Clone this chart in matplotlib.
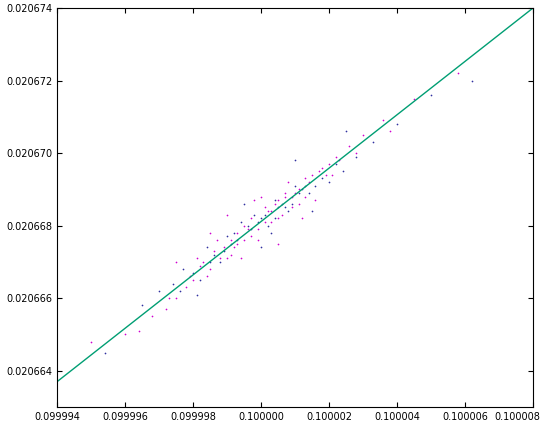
import matplotlib
matplotlib.use("Agg")
import matplotlib.pyplot as plt
import matplotlib.transforms as mtrans
import numpy as np

# offsets: x-0.1 and y-0.020668, in units of 1e-6
x_mag = [-5.0,-4.0,-3.2,-2.8,-2.5,-2.2,-1.9,-1.7,-1.5,-1.3,-1.1,-0.9,-0.7,-0.5,-0.3,-0.1,0.1,0.3,0.5,0.7,0.9,1.1,1.3,1.5,1.8,2.2,2.6,3.0,3.6,4.5,5.8,-1.5,0.5,-2.5,0.0,-1.0,1.6,-0.6,0.8,2.0,-3.6,3.8,-0.2,1.2,
         -1.2,-0.8,-0.4,0.2,0.6,1.0,1.4,-1.6,-2.0,-0.3,0.4,1.7,2.3,-2.7,-1.4,-0.9,0.1,0.9,1.9,2.8,-0.7,0.3,-1.8,1.1,-0.1,0.7,-2.1,2.1,-1.0,0.5,1.3,-0.5]
y_mag = [-3.2,-3.0,-2.5,-2.3,-2.0,-1.7,-0.9,-1.0,-1.2,-0.4,-0.6,-0.8,-0.5,-0.4,-0.3,-0.1,0.5,0.4,0.2,0.9,0.8,0.6,1.3,1.4,1.6,1.9,2.2,2.5,2.9,3.5,4.2,-0.2,-0.5,-1.0,0.8,0.3,0.7,-0.9,1.2,1.7,-2.9,2.6,0.7,0.2,
         -0.9,-0.6,-0.1,0.4,0.3,0.9,1.2,-1.4,-1.5,0.2,0.6,1.5,1.8,-2.0,-0.7,-0.4,0.1,0.5,1.4,2.0,-0.2,0.1,-1.1,1.0,-0.4,0.8,-1.4,1.4,-0.9,0.7,0.8,0.0]
x_blu = [-4.6,-3.5,-3.0,-2.6,-2.3,-2.0,-1.8,-1.6,-1.4,-1.2,-1.0,-0.8,-0.6,-0.4,-0.2,0.0,0.2,0.4,0.6,0.8,1.0,1.2,1.4,1.6,2.0,2.4,2.8,3.3,4.0,5.0,6.2,-0.5,1.5,2.5,0.0,1.0,-1.9,0.3,
         -1.1,-0.7,-0.3,0.1,0.5,0.9,1.3,1.8,-1.5,-2.4,0.7,-0.9,2.2,-0.1,0.4,1.1]
y_blu = [-3.5,-2.2,-1.8,-1.6,-1.2,-1.3,-1.5,-0.6,-0.8,-1.0,-0.3,-0.2,0.1,0.0,0.3,0.2,0.0,0.7,0.6,0.4,1.1,1.0,0.9,1.1,1.2,1.5,1.9,2.3,2.8,3.6,4.0,0.6,0.4,2.6,-0.6,1.8,-1.9,-0.2,
         -0.7,-0.4,-0.1,0.3,0.5,0.6,1.1,1.3,-1.0,-1.8,0.5,-0.5,1.7,0.1,0.2,0.9]

line_x = [0.099994, 0.100008]
line_y = [0.0206637, 0.0206740]

fig = plt.figure(figsize=(5.4, 4.23), dpi=100)
ax = fig.add_axes([0.106, 0.038, 0.881, 0.943])
ax.scatter(0.1 + np.array(x_mag)*1e-6, 0.020668 + np.array(y_mag)*1e-6, s=1.5, c="#d000d0", lw=0)
ax.scatter(0.1 + np.array(x_blu)*1e-6, 0.020668 + np.array(y_blu)*1e-6, s=1.5, c="#3030a0", lw=0)
ax.plot(line_x, line_y, color="#009e73", lw=1)
ax.set_xlim(0.099994, 0.100008)
ax.set_ylim(0.020663, 0.020674)
xt = [0.099994,0.099996,0.099998,0.100000,0.100002,0.100004,0.100006,0.100008]
yt = [0.020664,0.020666,0.020668,0.020670,0.020672,0.020674]
ax.set_xticks(xt); ax.set_xticklabels([f"{v:.6f}" for v in xt])
ax.set_yticks(yt); ax.set_yticklabels([f"{v:.6f}" for v in yt])
ax.tick_params(direction="in", top=True, right=True, labelsize=7)
last = ax.get_xticklabels()[-1]
last.set_ha("right")
last.set_transform(last.get_transform() + mtrans.ScaledTranslation(5/72, 0, fig.dpi_scale_trans))
fig.savefig("out.png")
